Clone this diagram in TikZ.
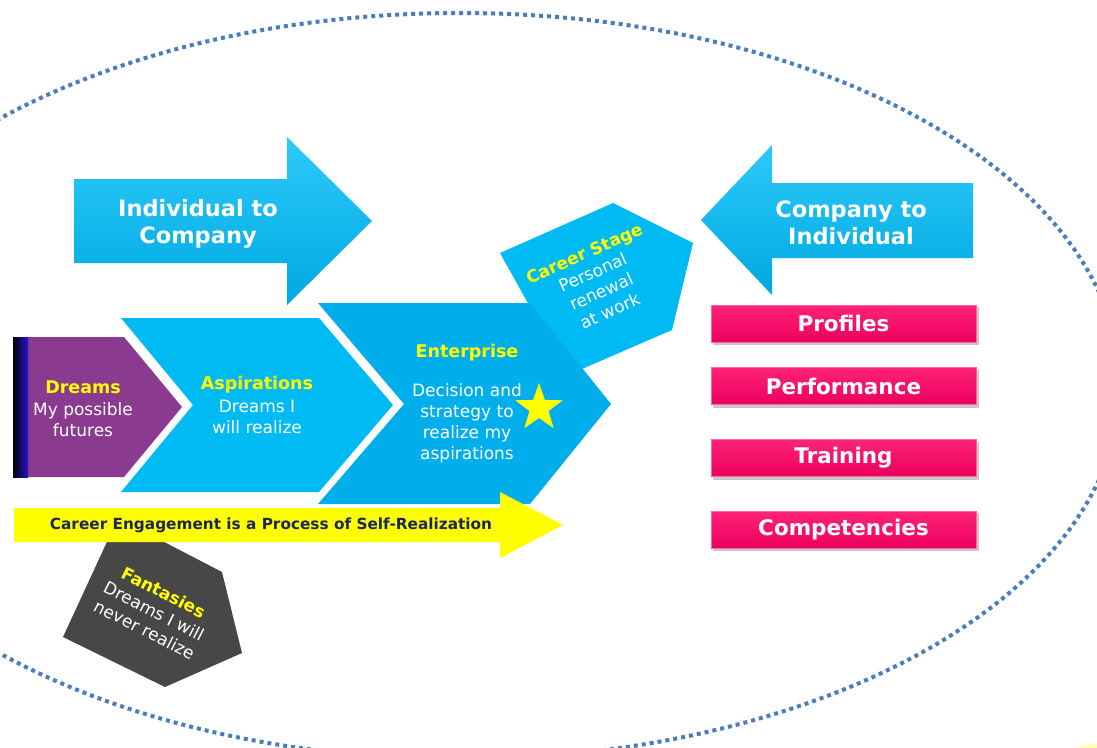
\documentclass[tikz,border=0pt]{standalone}
\usepackage{fontspec}
\setmainfont{DejaVu Sans}
\usetikzlibrary{shapes.geometric}
\definecolor{dotblue}{RGB}{74,126,187}
\definecolor{skyA}{RGB}{0,186,244}
\definecolor{skyB}{RGB}{0,174,236}
\definecolor{purp}{RGB}{138,58,143}
\definecolor{darkg}{RGB}{71,71,71}
\definecolor{navy}{RGB}{27,38,94}
\definecolor{ylw}{RGB}{255,255,0}
\definecolor{pinkT}{RGB}{255,35,120}
\definecolor{pinkB}{RGB}{235,0,95}
\definecolor{arrT}{RGB}{45,202,248}
\definecolor{arrB}{RGB}{0,168,226}
\begin{document}
\begin{tikzpicture}[x=1pt,y=-1pt,
  bodytxt/.style={font=\fontsize{17}{21}\selectfont, text=white, align=center, inner sep=0pt},
  ttltxt/.style={font=\fontsize{17.5}{21}\selectfont\bfseries, text=ylw, inner sep=0pt},
  bigtxt/.style={font=\fontsize{22.5}{27}\selectfont\bfseries, text=white, align=center, inner sep=0pt},
  pinkbox/.style={rectangle, minimum width=265pt, minimum height=37pt, inner sep=0pt,
    top color=pinkT, bottom color=pinkB, draw=pinkT!70!white, line width=0.6pt,
    font=\fontsize{21.5}{24}\selectfont\bfseries, text=white},
  boxshadow/.style={fill=black, opacity=0.22},
  bluearrow/.style={top color=arrT, bottom color=arrB}
]
\useasboundingbox (0,0) rectangle (1097,747);
\fill[white] (0,0) rectangle (1097,747);
% faint yellow glow bottom right
\fill[ylw!30] (1100,762) ellipse [x radius=42pt, y radius=18pt];
% dotted ellipse
\draw[dotblue, line width=4pt, dash pattern=on 4pt off 4pt] (460,386) ellipse [x radius=660pt, y radius=373pt];

% Individual to Company arrow
\shade[bluearrow] (74,179) -- (287,179) -- (287,137) -- (372,221) -- (287,305) -- (287,263) -- (74,263) -- cycle;
\node[bigtxt] (indcomp) at (198,224) {Individual to\\Company};

% Company to Individual arrow
\shade[bluearrow] (973,183) -- (772,183) -- (772,145) -- (701,220) -- (772,295) -- (772,258) -- (973,258) -- cycle;
\node[bigtxt] (compind) at (851,223) {Company to\\Individual};

% Career stage pentagon (behind Enterprise)
\fill[skyA] (500,253) -- (613,203) -- (693,243) -- (672,330) -- (568,375) -- cycle;
\node[bodytxt, rotate=24] (careerT) at (597,282) {\textcolor{ylw}{\bfseries Career Stage}\\Personal\\renewal\\at work};

% Aspirations chevron
\fill[skyA] (121,318) -- (319,318) -- (393,405) -- (319,492) -- (121,492) -- (193,405) -- cycle;
% Enterprise chevron
\fill[skyB] (318,303) -- (530,303) -- (611,404) -- (530,504) -- (318,504) -- (404,404) -- cycle;

% Dreams
\fill[purp] (13,337) -- (124,337) -- (182,407) -- (124,477) -- (13,477) -- cycle;
\shade[left color=black, right color={rgb,255:red,40;green,20;blue,210}] (13,337) rectangle (28,477);

% Fantasies
\fill[darkg] (118,518) -- (222,572) -- (242,653) -- (165,687) -- (63,637) -- cycle;
\node[bodytxt, rotate=-27] (fantT) at (154,611) {\textcolor{ylw}{\bfseries Fantasies}\\Dreams I will\\never realize};

% Yellow process arrow
\fill[ylw] (14,508) -- (500,508) -- (500,492) -- (563,525) -- (500,558) -- (500,542) -- (14,542) -- cycle;
\node[font=\fontsize{15.3}{18}\selectfont\bfseries, text=navy, inner sep=0pt] (process) at (271,525) {Career Engagement is a Process of Self-Realization};

% Star
\node[star, star points=5, star point ratio=2.5, fill=ylw, minimum size=50pt, inner sep=0pt] (star) at (539,408) {};

% Texts
\node[ttltxt] (dreamsH) at (83,387) {Dreams};
\node[bodytxt] (dreamsB) at (83,420) {My possible\\futures};
\node[ttltxt] (aspH) at (257,385) {Aspirations};
\node[bodytxt] (aspB) at (257,417) {Dreams I\\will realize};
\node[ttltxt] (entH) at (467,353) {Enterprise};
\node[bodytxt] (entB) at (467,423) {Decision and\\strategy to\\realize my\\aspirations};

% Pink boxes
\foreach \n/\y/\t in {prof/323.5/Profiles, perf/386/Performance, train/458/Training, comp/529.5/Competencies}{
  \fill[boxshadow] (713,\y-16.5) rectangle (979,\y+21.5);
  \node[pinkbox] (\n) at (843.5,\y) {\t};
}
\end{tikzpicture}
\end{document}
